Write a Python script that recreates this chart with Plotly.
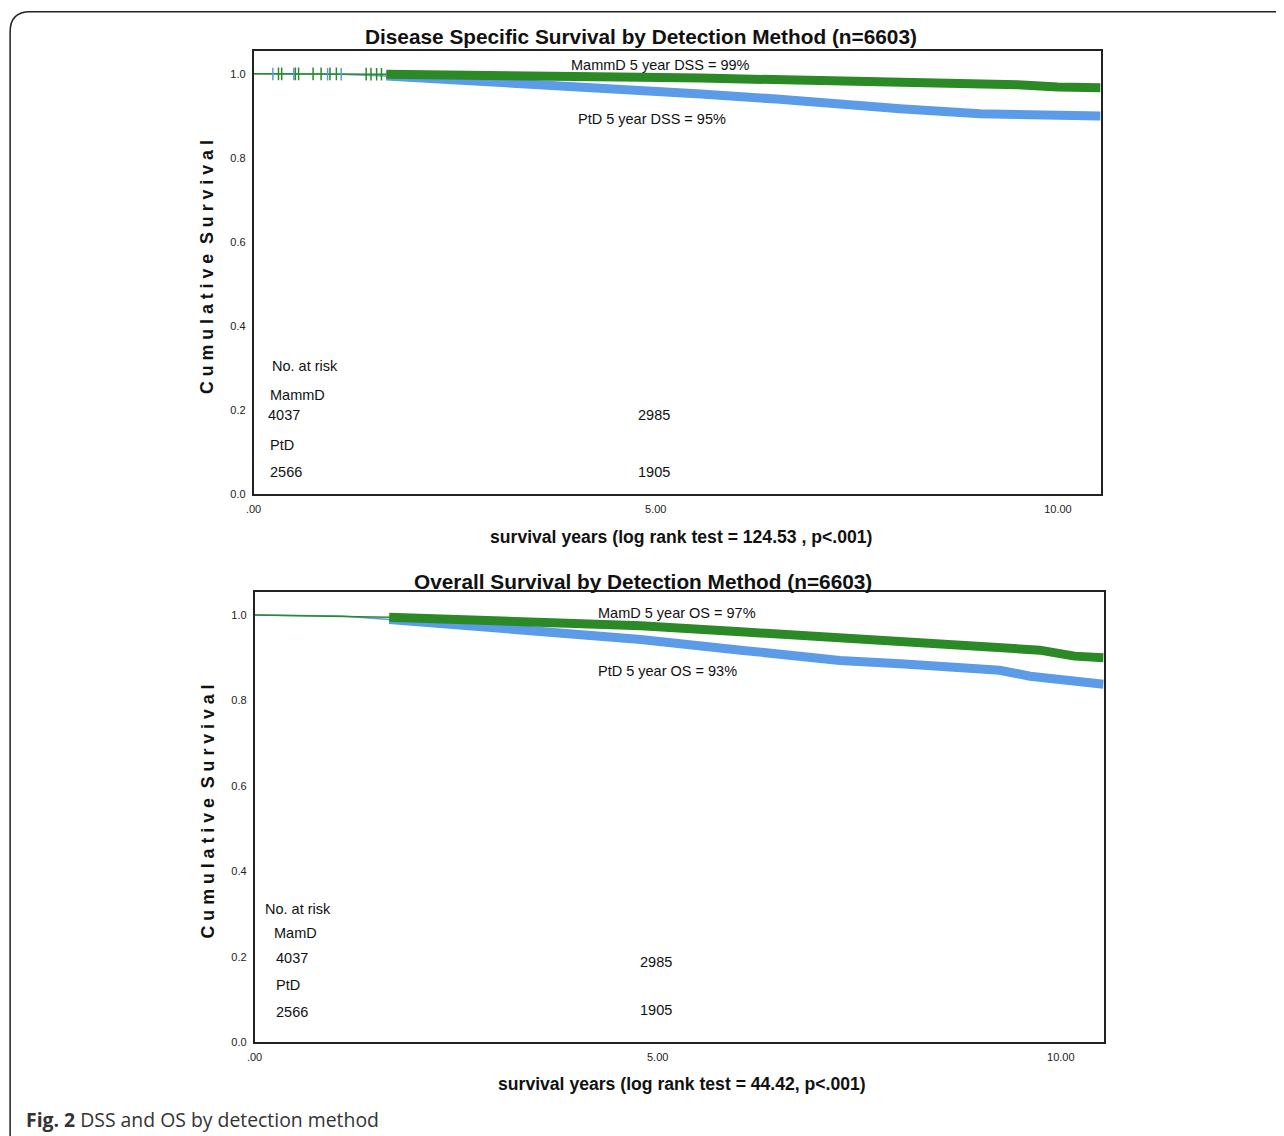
import numpy as np
import plotly.graph_objects as go

# figure is sized to fit the window inside the page's default body margin;
# reference pixel positions are converted to figure positions below
W, H = 1268, 1134
S, CX, CY = 0.996, 13.9, 6.2

# ---------------- data ----------------
# Disease specific survival (top panel)
dss_mammd_t = [0, 1.0, 1.65, 3.08, 3.95, 4.81, 5.56, 6.5, 7.30, 8.04, 8.75, 9.5, 10.0, 10.53]
dss_mammd_s = [1.0, 1.0, 0.999, 0.998, 0.996, 0.992, 0.990, 0.987, 0.984, 0.983, 0.978, 0.974, 0.969, 0.967]
dss_ptd_t = [0, 1.09, 1.65, 3.08, 3.57, 4.81, 5.56, 6.5, 7.30, 8.04, 9.03, 9.78, 10.53]
dss_ptd_s = [1.0, 0.999, 0.995, 0.981, 0.971, 0.962, 0.952, 0.940, 0.926, 0.917, 0.905, 0.903, 0.900]
dss_early_cens_mammd = [0.31, 0.35, 0.52, 0.56, 0.74, 0.84, 0.95, 1.03, 1.40, 1.46, 1.53, 1.59]
dss_early_cens_ptd = [0.24, 0.50, 0.92, 1.09]

# Overall survival (bottom panel)
os_mamd_t = [0, 1.0, 1.67, 3.06, 3.55, 4.79, 6.03, 7.26, 8.01, 8.75, 9.49, 9.74, 9.99, 10.17, 10.53]
os_mamd_s = [1.0, 0.998, 0.995, 0.987, 0.984, 0.975, 0.961, 0.947, 0.938, 0.932, 0.923, 0.918, 0.910, 0.904, 0.900]
os_ptd_t = [0, 1.08, 1.67, 3.06, 3.55, 4.79, 6.03, 7.26, 8.01, 8.75, 9.24, 9.62, 9.99, 10.53]
os_ptd_s = [1.0, 0.998, 0.990, 0.970, 0.961, 0.943, 0.918, 0.894, 0.886, 0.877, 0.871, 0.857, 0.850, 0.838]

dense_start = 1.65  # where censoring marks become continuous

atrisk_times = [0, 5]
dss_risk_mammd = [4037, 2985]
dss_risk_ptd = [2566, 1905]
os_risk_mamd = [4037, 2985]
os_risk_ptd = [2566, 1905]

y_ticks = [0.0, 0.2, 0.4, 0.6, 0.8, 1.0]
x_ticks = [0, 5, 10]
x_ticklabels = [".00", "5.00", "10.00"]

GREEN = "#2b8a26"
BLUE = "#5b9be8"
FONT = "Liberation Sans, Arial, sans-serif"

fig = go.Figure()


def add_curve(t, s, color, xa, ya):
    thin_t = [a for a in t if a <= dense_start + 0.03]
    thin_s = s[:len(thin_t)]
    thick_t = [a for a in t if a >= dense_start - 0.03]
    thick_s = s[len(t) - len(thick_t):]
    fig.add_trace(go.Scatter(x=thin_t, y=thin_s, mode="lines", xaxis=xa, yaxis=ya,
                             line=dict(color=color, width=1.5), showlegend=False, hoverinfo="skip"))
    fig.add_trace(go.Scatter(x=thick_t, y=thick_s, mode="lines", xaxis=xa, yaxis=ya,
                             line=dict(color=color, width=9), showlegend=False, hoverinfo="skip"))


def add_cens(times, t, s, color, xa, ya):
    ys = list(np.interp(times, t, s))
    fig.add_trace(go.Scatter(x=times, y=ys, mode="markers", xaxis=xa, yaxis=ya,
                             marker=dict(symbol="line-ns-open", size=9, color=color,
                                         line=dict(color=color, width=1.5)),
                             showlegend=False, hoverinfo="skip"))


# top panel
add_curve(dss_ptd_t, dss_ptd_s, BLUE, "x", "y")
add_curve(dss_mammd_t, dss_mammd_s, GREEN, "x", "y")
add_cens(dss_early_cens_ptd, dss_ptd_t, dss_ptd_s, BLUE, "x", "y")
add_cens(dss_early_cens_mammd, dss_mammd_t, dss_mammd_s, GREEN, "x", "y")
# bottom panel
add_curve(os_ptd_t, os_ptd_s, BLUE, "x2", "y2")
add_curve(os_mamd_t, os_mamd_s, GREEN, "x2", "y2")


def px(x):
    return ((x - CX) / S) / W


def py(y):
    return 1 - ((y - CY) / S) / H


axis_common = dict(showline=True, linecolor="#222", linewidth=1.5, mirror=True,
                   showgrid=False, zeroline=False, ticks="", ticklabelstandoff=4,
                   tickfont=dict(family=FONT, size=11, color="#222"))

fig.update_layout(
    width=W, height=H, margin=dict(l=0, r=0, t=0, b=0),
    paper_bgcolor="white", plot_bgcolor="white",
    xaxis=dict(domain=[px(252), px(1101)], range=[0, 10.53], anchor="y",
               tickvals=x_ticks, ticktext=x_ticklabels, **axis_common),
    yaxis=dict(domain=[py(493), py(49)], range=[0, 1.055], anchor="x",
               tickvals=y_ticks, tickformat=".1f", **axis_common),
    xaxis2=dict(domain=[px(253), px(1104)], range=[0, 10.53], anchor="y2",
                tickvals=x_ticks, ticktext=x_ticklabels, **axis_common),
    yaxis2=dict(domain=[py(1042), py(591)], range=[0, 1.054], anchor="x2",
                tickvals=y_ticks, tickformat=".1f", **axis_common),
)

ann = []


def text(x, y, s, size=14.5, bold=False, xanchor="center", angle=0, family=FONT):
    if bold:
        s = "<b>" + s + "</b>"
    ann.append(dict(x=px(x), y=py(y), xref="paper", yref="paper",
                    text=s, showarrow=False, xanchor=xanchor, yanchor="middle",
                    textangle=angle, font=dict(family=family, size=size, color="#111")))


# titles
text(640, 35, "Disease Specific Survival by Detection Method (n=6603)", size=20.8, bold=True)
text(642, 580, "Overall Survival by Detection Method (n=6603)", size=20.8, bold=True)
# axis titles
ytitle = "C u m u l a t i v e &nbsp;S u r v i v a l"
text(206, 266, ytitle, size=17.8, bold=True, angle=-90)
text(206, 811, ytitle, size=17.8, bold=True, angle=-90)
text(680, 536, "survival years (log rank test = 124.53 , p<.001)", size=17.6, bold=True)
text(681, 1084, "survival years (log rank test = 44.42, p<.001)", size=17.6, bold=True)
# curve labels
text(660, 63, "MammD 5 year DSS = 99%")
text(651, 117, "PtD 5 year DSS = 95%")
text(676, 612, "MamD 5 year OS = 97%")
text(667, 670, "PtD 5 year OS = 93%")
# no at risk labels
text(268, 365, "No. at risk", xanchor="left")
text(266, 394, "MammD", xanchor="left")
text(266, 444, "PtD", xanchor="left")
text(261, 908, "No. at risk", xanchor="left")
text(270, 932, "MamD", xanchor="left")
text(272, 984, "PtD", xanchor="left")


def risk_row(vals, ys, xref, first_shift):
    for t, v, yy in zip(atrisk_times, vals, ys):
        ann.append(dict(x=t, y=py(yy), xref=xref, yref="paper", text=str(v), showarrow=False,
                        xanchor="left" if t == 0 else "center", yanchor="middle",
                        xshift=first_shift if t == 0 else -2,
                        font=dict(family=FONT, size=14.5, color="#111")))


risk_row(dss_risk_mammd, [414, 414], "x", 12)
risk_row(dss_risk_ptd, [471, 471], "x", 14)
risk_row(os_risk_mamd, [957, 961], "x2", 19)
risk_row(os_risk_ptd, [1012, 1009], "x2", 19)

# caption
ann.append(dict(x=px(22), y=py(1119), xref="paper", yref="paper", showarrow=False,
                xanchor="left", yanchor="middle",
                text="<b>Fig. 2</b> DSS and OS by detection method",
                font=dict(family="Open Sans, sans-serif", size=19.4, color="#333")))

fig.update_layout(annotations=ann)

# outer rounded frame
fig.add_shape(type="path", xref="paper", yref="paper",
              path=f"M {px(8)} {py(1150)} L {px(8)} {py(30)} Q {px(8)} {py(10)} {px(28)} {py(10)} L {px(1300)} {py(10)}",
              line=dict(color="#222", width=1.5))

fig.write_html("out.html")
